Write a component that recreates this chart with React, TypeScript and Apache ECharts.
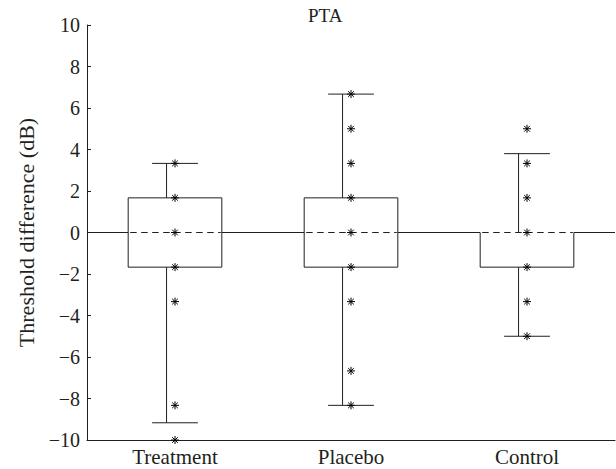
import React, { useEffect, useRef } from "react";
import * as echarts from "echarts";

const categories = ["Treatment", "Placebo", "Control"];
const whiskerLow = [-9.17, -8.33, -5];
const q1 = [-1.67, -1.67, -1.67];
const medians = [0, 0, 0];
const q3 = [1.67, 1.67, 0];
const whiskerHigh = [3.33, 6.67, 3.8];
const treatmentPoints = [3.33, 1.67, 0, -1.67, -3.33, -8.33, -10];
const placeboPoints = [6.67, 5, 3.33, 1.67, 0, -1.67, -3.33, -6.67, -8.33];
const controlPoints = [5, 3.33, 1.67, 0, -1.67, -3.33, -5];
const yMin = -10;
const yMax = 10;
const yInterval = 2;

const INK = "#231f20";
const FONT = "'Liberation Serif', 'DejaVu Serif', serif";

export default function App() {
  const ref = useRef<HTMLDivElement>(null);

  useEffect(() => {
    if (!ref.current) return;
    const chart = echarts.init(ref.current, undefined, { renderer: "svg" });

    const boxData = categories.map((_, i) => [i, whiskerLow[i], q1[i], medians[i], q3[i], whiskerHigh[i]]);
    const pointData: number[][] = [];
    [treatmentPoints, placeboPoints, controlPoints].forEach((arr, i) => arr.forEach((v) => pointData.push([i, v])));

    const mkStyle = () => ({ stroke: INK, lineWidth: 1, fill: null });

    const option: any = {
      animation: false,
      title: {
        text: "PTA",
        left: 303,
        top: 1,
        textStyle: { fontFamily: FONT, fontSize: 19, fontWeight: "normal", color: INK },
      },
      grid: { left: 87, right: 1, top: 25, bottom: 29, containLabel: false },
      graphic: [
        {
          type: "rect",
          right: 0,
          top: 235,
          z: 100,
          shape: { width: 3, height: 202 },
          style: { fill: "#ffffff" },
        },
      ],
      xAxis: {
        type: "category",
        data: categories,
        boundaryGap: true,
        axisLine: { onZero: false, lineStyle: { color: INK, width: 1 } },
        axisTick: { inside: true, alignWithLabel: true, length: 4, lineStyle: { color: INK } },
        axisLabel: { fontFamily: FONT, fontSize: 21, color: INK, margin: 6 },
        splitLine: { show: false },
      },
      yAxis: {
        type: "value",
        min: yMin,
        max: yMax,
        interval: yInterval,
        name: "Threshold difference (dB)",
        nameLocation: "middle",
        nameGap: 42,
        nameTextStyle: { fontFamily: FONT, fontSize: 22, color: INK },
        axisLine: { show: true, onZero: false, lineStyle: { color: INK, width: 1 } },
        axisTick: { show: true, inside: true, length: 4, lineStyle: { color: INK } },
        axisLabel: {
          fontFamily: FONT,
          fontSize: 20,
          color: INK,
          margin: 7,
          formatter: (v: number) => String(v).replace("-", "\u2212"),
        },
        splitLine: { show: false },
      },
      series: [
        {
          type: "custom",
          name: "boxes",
          data: boxData,
          clip: false,
          z: 2,
          encode: { x: 0, y: [1, 2, 3, 4, 5] },
          renderItem: (params: any, api: any) => {
            const cs = params.coordSys;
            const idx = api.value(0);
            const cx = api.coord([idx, 0])[0];
            const bw = cs.width / categories.length;
            const half = bw * 0.266;
            const capHalf = bw * 0.13;
            const wx = cx - bw * 0.048;
            const y0 = api.coord([idx, 0])[1];
            const yLo = api.coord([idx, api.value(1)])[1];
            const yQ1 = api.coord([idx, api.value(2)])[1];
            const yMed = api.coord([idx, api.value(3)])[1];
            const yQ3 = api.coord([idx, api.value(4)])[1];
            const yHi = api.coord([idx, api.value(5)])[1];
            const L = cx - half;
            const R = cx + half;
            const ln = (x1: number, y1: number, x2: number, y2: number) => ({
              type: "line",
              shape: { x1, y1, x2, y2 },
              style: mkStyle(),
            });
            const children: any[] = [
              ln(L, yQ1, L, yQ3),
              ln(R, yQ1, R, yQ3),
              ln(L, yQ1, R, yQ1),
              ln(wx, yQ3, wx, yHi),
              ln(cx - capHalf, yHi, cx + capHalf, yHi),
              ln(wx, yQ1, wx, yLo),
              ln(cx - capHalf, yLo, cx + capHalf, yLo),
            ];
            if (api.value(4) !== api.value(3)) children.push(ln(L, yQ3, R, yQ3));
            const leftStart = idx === 0 ? cs.x : cx - bw / 2;
            children.push(ln(leftStart, y0, L, y0));
            const rightEnd = idx === categories.length - 1 ? cs.x + cs.width : cx + bw / 2;
            children.push(ln(R, y0, rightEnd, y0));
            const dash = 6.5;
            const gap = 4.5;
            let x = L + 2;
            while (x < R - 1) {
              const x2 = Math.min(x + dash, R - 1);
              children.push(ln(x, yMed, x2, yMed));
              x += dash + gap;
            }
            return { type: "group", children };
          },
        },
        {
          type: "custom",
          name: "points",
          data: pointData,
          clip: false,
          z: 3,
          encode: { x: 0, y: 1 },
          renderItem: (params: any, api: any) => {
            const p = api.coord([api.value(0), api.value(1)]);
            const r = 4;
            const d = r * Math.SQRT1_2;
            const st = () => ({ stroke: "#000", lineWidth: 1, fill: null });
            return {
              type: "group",
              children: [
                { type: "line", shape: { x1: p[0] - r, y1: p[1], x2: p[0] + r, y2: p[1] }, style: st() },
                { type: "line", shape: { x1: p[0], y1: p[1] - r, x2: p[0], y2: p[1] + r }, style: st() },
                { type: "line", shape: { x1: p[0] - d, y1: p[1] - d, x2: p[0] + d, y2: p[1] + d }, style: st() },
                { type: "line", shape: { x1: p[0] - d, y1: p[1] + d, x2: p[0] + d, y2: p[1] - d }, style: st() },
              ],
            };
          },
        },
      ],
    };

    chart.setOption(option);
    return () => chart.dispose();
  }, []);

  return (
    <div
      ref={ref}
      style={{ position: "fixed", left: 0, top: 0, width: 616, height: 469, background: "#fff" }}
    />
  );
}
